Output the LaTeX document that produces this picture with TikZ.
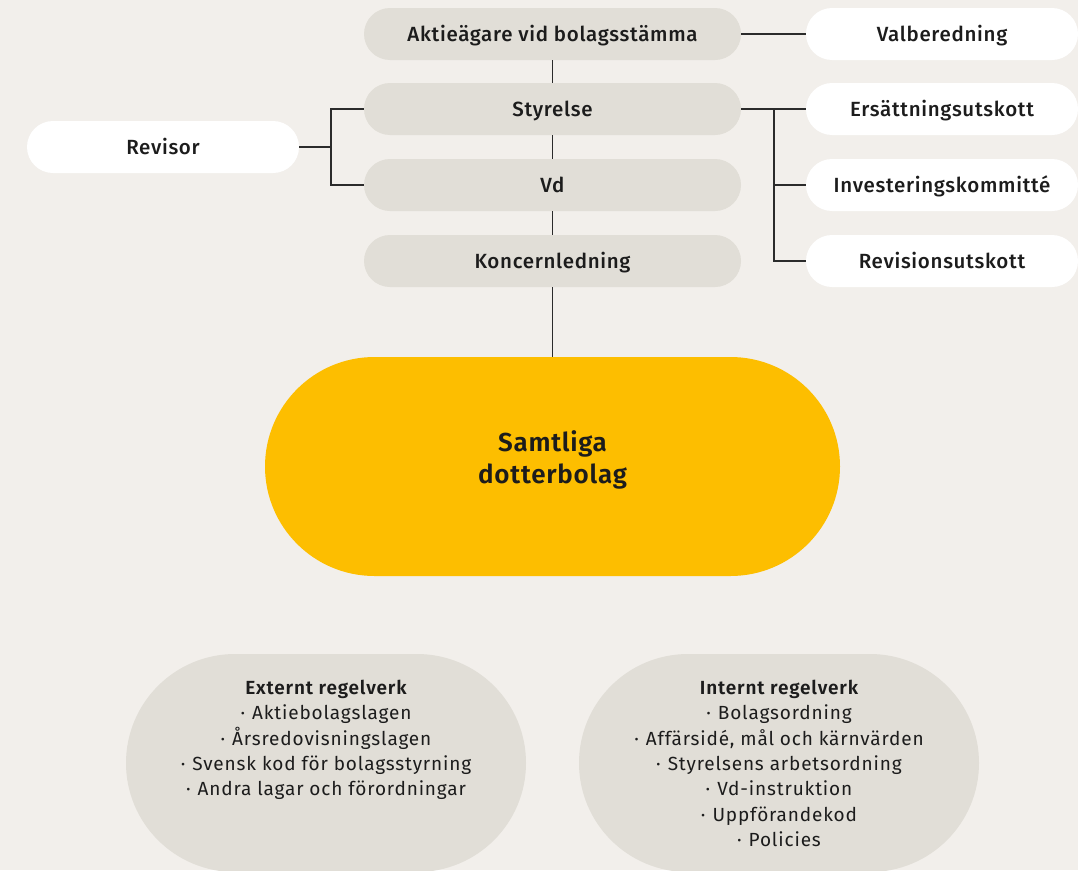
\documentclass[tikz,border=0pt]{standalone}
\usepackage{fontspec}
\setmainfont{Fira Sans}[LetterSpace=4.5]
\newfontfamily\medfont{Fira Sans Medium}[LetterSpace=3.4]
\newfontfamily\semifont{Fira Sans SemiBold}[LetterSpace=4.5]
\newfontfamily\boldfont{Fira Sans SemiBold}[LetterSpace=3]
\usetikzlibrary{positioning}
\definecolor{bgc}{HTML}{F2EFEB}
\definecolor{boxgray}{HTML}{E1DED7}
\definecolor{yel}{HTML}{FDBE00}
\definecolor{ink}{HTML}{1C1C1C}
\definecolor{linec}{HTML}{2B2B2B}
\newcommand{\bul}{·\hspace{7pt}}
\begin{document}
\begin{tikzpicture}[x=1pt,y=-1pt,
  graybox/.style={fill=boxgray,draw=none,minimum width=377pt,minimum height=52pt,rounded corners=26pt,inner sep=0pt,
    font=\medfont\fontsize{20.5}{24}\selectfont,text=ink,text height=15pt,text depth=1pt},
  whitebox/.style={fill=white,draw=none,minimum width=272pt,minimum height=52pt,rounded corners=26pt,inner sep=0pt,
    font=\medfont\fontsize{20.5}{24}\selectfont,text=ink,text height=15pt,text depth=1pt},
  bubble/.style={fill=boxgray,draw=none,minimum width=400pt,minimum height=218pt,rounded corners=109pt,inner sep=0pt},
  listtext/.style={anchor=north,align=center,inner sep=0pt,text=ink,font=\fontsize{19}{25.3}\selectfont},
  conn/.style={draw=linec,line width=1.1pt}]
\useasboundingbox[fill=bgc] (0,0) rectangle (1078,870);
% main column
\node[graybox] (aktie) at (552.5,34) {Aktieägare vid bolagsstämma};
\node[graybox] (styr) at (552.5,109) {Styrelse};
\node[graybox] (vd) at (552.5,185) {Vd};
\node[graybox] (koncern) at (552.5,261) {Koncernledning};
% side boxes
\node[whitebox] (revisor) at (163,147) {Revisor};
\node[whitebox] (valb) at (942,34) {Valberedning};
\node[whitebox] (ersatt) at (942,109) {Ersättningsutskott};
\node[whitebox] (invest) at (942,185) {Investeringskommitté};
\node[whitebox] (revut) at (942,261) {Revisionsutskott};
% yellow
\node[fill=yel,draw=none,minimum width=575pt,minimum height=219pt,rounded corners=109.5pt,inner sep=0pt] (samt) at (552.5,466.5) {};
\node[align=center,text=ink,inner sep=0pt,font=\boldfont\fontsize{26}{32}\selectfont] (samttxt) at (552.5,460) {Samtliga\\dotterbolag};
% bubbles
\node[bubble] (ext) at (326,763) {};
\node[bubble] (int) at (779,763) {};
\node[listtext] (exttxt) at (326,680) {{\semifont Externt regelverk}\\
  \bul Aktiebolagslagen\\
  \bul Årsredovisningslagen\\
  \bul Svensk kod för bolagsstyrning\\
  \bul Andra lagar och förordningar};
\node[listtext] (inttxt) at (779,680) {{\semifont Internt regelverk}\\
  \bul Bolagsordning\\
  \bul Affärsidé, mål och kärnvärden\\
  \bul Styrelsens arbetsordning\\
  \bul Vd-instruktion\\
  \bul Uppförandekod\\
  \bul Policies};
% connectors
\draw[conn] (aktie.south) -- (styr.north);
\draw[conn] (styr.south) -- (vd.north);
\draw[conn] (vd.south) -- (koncern.north);
\draw[conn] (koncern.south) -- (samt.north);
\draw[conn] (aktie.east) -- (valb.west);
\coordinate (rj) at (331,147);
\draw[conn] (revisor.east) -- (rj);
\draw[conn] (styr.west) -| (rj);
\draw[conn] (vd.west) -| (rj);
\coordinate (cj) at (774,109);
\draw[conn] (styr.east) -- (ersatt.west);
\draw[conn] (cj) |- (invest.west);
\draw[conn] (cj) |- (revut.west);
\end{tikzpicture}
\end{document}
